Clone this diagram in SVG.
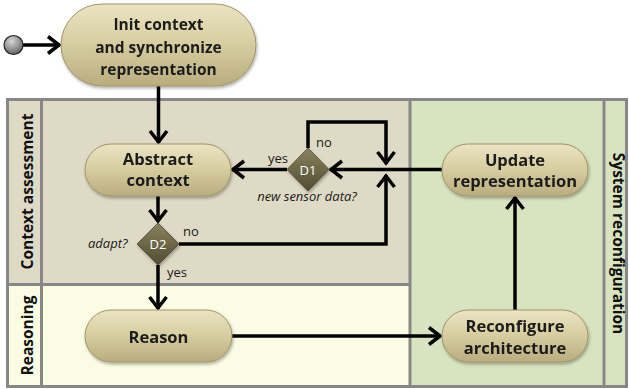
<svg xmlns="http://www.w3.org/2000/svg" width="629" height="389" viewBox="0 0 629 389">
<style>
.node{font-family:"Open Sans","Liberation Sans",sans-serif;font-weight:700;font-size:16.5px;fill:#1a1a1a;text-anchor:middle}
.init{font-size:15.5px}
.lane{font-family:"Open Sans","Liberation Sans",sans-serif;font-weight:700;font-size:15.5px;fill:#111;text-anchor:middle}
.lbl{font-family:"Open Sans","Liberation Sans",sans-serif;font-size:13px;fill:#1a1a1a}
.it{font-style:italic}
.dl{font-family:"Open Sans","Liberation Sans",sans-serif;font-size:13px;fill:#fff;text-anchor:middle}
.pill{fill:url(#pg);stroke:#a0946a;stroke-width:1}
.dia{fill:url(#dg);stroke:#4e4931;stroke-width:0.8}
.con{fill:none;stroke:#000;stroke-width:3.5;stroke-linejoin:miter}
.grid{fill:none;stroke:#878787;stroke-width:3}
</style>
<defs>
<linearGradient id="pg" x1="0" y1="0" x2="0" y2="1">
<stop offset="0" stop-color="#ebe4c3"/>
<stop offset="0.45" stop-color="#d8cfa2"/>
<stop offset="1" stop-color="#b9ad7e"/>
</linearGradient>
<linearGradient id="dg" x1="0" y1="0" x2="0" y2="1">
<stop offset="0" stop-color="#8a8360"/>
<stop offset="0.5" stop-color="#6d6747"/>
<stop offset="1" stop-color="#524c32"/>
</linearGradient>
<radialGradient id="sg" cx="0.4" cy="0.3" r="0.8">
<stop offset="0" stop-color="#d8d8d8"/>
<stop offset="1" stop-color="#555"/>
</radialGradient>
<filter id="sh" x="-10%" y="-10%" width="125%" height="130%">
<feDropShadow dx="1" dy="2" stdDeviation="1.5" flood-color="#000" flood-opacity="0.3"/>
</filter>
<marker id="ar" markerUnits="userSpaceOnUse" markerWidth="24" markerHeight="24" refX="0" refY="0" viewBox="-14 -12 16 24" orient="auto">
<path d="M-12,-8.5 L-1,0 L-12,8.5" fill="none" stroke="#000" stroke-width="3.5" stroke-linejoin="miter"/>
</marker>
</defs>

<g id="lanes">
<rect x="7" y="99" width="403" height="186" fill="#dfdac5"/>
<rect x="7" y="285" width="403" height="102" fill="#fafde3"/>
<rect x="410" y="99" width="217" height="288" fill="#d8e4c0"/>
<path class="grid" d="M7.5,99.5 H626.5 V386.5 H7.5 Z M41.5,99.5 V386.5 M7.5,284.5 H410 M410,99.5 V386.5 M604,99.5 V386.5"/>
<text class="lane" transform="translate(32.5,191.5) rotate(-90)">Context assessment</text>
<text class="lane" transform="translate(32.5,335.5) rotate(-90)">Reasoning</text>
<text class="lane" transform="translate(613,243.5) rotate(90)">System reconfiguration</text>
</g>

<g id="connectors">
<path class="con" d="M23,45 H60" marker-end="url(#ar)"/>
<path class="con" d="M158.5,86 V143" marker-end="url(#ar)"/>
<path class="con" d="M158,196 V222" marker-end="url(#ar)"/>
<path class="con" d="M158,265 V309" marker-end="url(#ar)"/>
<path class="con" d="M179,244 H386 V175" marker-end="url(#ar)"/>
<path class="con" d="M442,169.5 H330" marker-end="url(#ar)"/>
<path class="con" d="M308,148 V122 H386 V164" marker-end="url(#ar)"/>
<path class="con" d="M287,169.5 H232" marker-end="url(#ar)"/>
<path class="con" d="M232,336 H441" marker-end="url(#ar)"/>
<path class="con" d="M515,310 V197" marker-end="url(#ar)"/>
</g>

<g id="start">
<circle cx="13.5" cy="45" r="9.5" fill="url(#sg)" stroke="#222" stroke-width="1.2"/>
</g>

<g id="init" filter="url(#sh)">
<rect class="pill" x="61" y="4" width="195" height="82" rx="41"/>
<text class="node init" x="158.5" y="29.5">Init context</text>
<text class="node init" x="158.5" y="52.5">and synchronize</text>
<text class="node init" x="158.5" y="74.5">representation</text>
</g>

<g id="abstract" filter="url(#sh)">
<rect class="pill" x="85" y="144" width="146" height="52" rx="26"/>
<text class="node" x="158" y="164.5">Abstract</text>
<text class="node" x="158" y="186">context</text>
</g>

<g id="update" filter="url(#sh)">
<rect class="pill" x="442" y="144" width="146" height="52" rx="26"/>
<text class="node" x="515" y="165.5">Update</text>
<text class="node" x="515" y="187">representation</text>
</g>

<g id="reason" filter="url(#sh)">
<rect class="pill" x="85" y="310" width="147" height="52" rx="26"/>
<text class="node" x="158.5" y="342.5">Reason</text>
</g>

<g id="reconfigure" filter="url(#sh)">
<rect class="pill" x="442" y="310" width="146" height="52" rx="26"/>
<text class="node" x="515" y="332">Reconfigure</text>
<text class="node" x="515" y="353.5">architecture</text>
</g>

<g id="d1">
<path class="dia" d="M308,148 L329,169.5 L308,191 L287,169.5 Z" filter="url(#sh)"/>
<text class="dl" x="308" y="174.5">D1</text>
<text class="lbl" x="268" y="163">yes</text>
<text class="lbl" x="316" y="147">no</text>
<text class="lbl it" x="307" y="201" text-anchor="middle">new sensor data?</text>
</g>

<g id="d2">
<path class="dia" d="M158,223 L179,244 L158,265 L137,244 Z" filter="url(#sh)"/>
<text class="dl" x="158" y="249">D2</text>
<text class="lbl it" x="88" y="248">adapt?</text>
<text class="lbl" x="183" y="236">no</text>
<text class="lbl" x="167" y="277">yes</text>
</g>
</svg>
